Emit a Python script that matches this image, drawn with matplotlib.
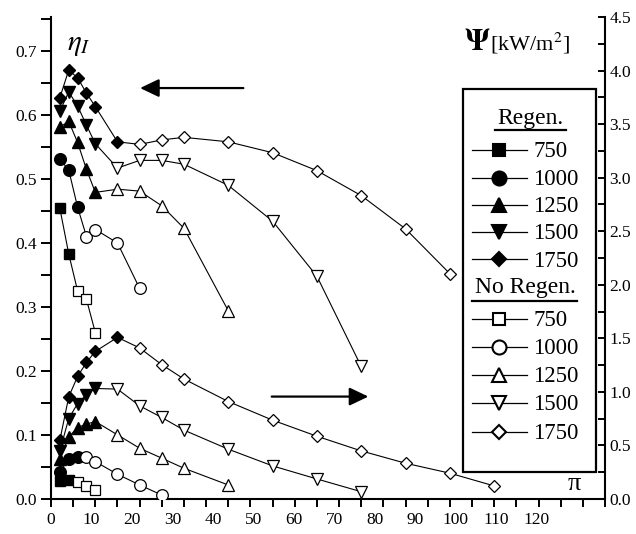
import numpy as np
import matplotlib
matplotlib.use("Agg")
import matplotlib.pyplot as plt
from matplotlib.lines import Line2D
from matplotlib.patches import Rectangle
from matplotlib.ticker import MultipleLocator

plt.rcParams["font.family"] = ["Liberation Serif", "DejaVu Serif"]
plt.rcParams["mathtext.fontset"] = "stix"

# temperatures [K] and their markers
temps = [750, 1000, 1250, 1500, 1750]
markers = ["s", "o", "^", "v", "D"]
msizes = [7.5, 8.4, 8.4, 8.4, 6.3]

# with regeneration (filled markers): pressure ratio, efficiency, specific power
regen_pi = [[2, 4], [2, 4, 6], [2, 4, 6, 8, 10], [2, 4, 6, 8, 10], [2, 4, 6, 8, 10, 15]]
regen_eta = [
    [0.454, 0.383],
    [0.531, 0.514, 0.456],
    [0.581, 0.590, 0.557, 0.515, 0.479],
    [0.606, 0.636, 0.614, 0.584, 0.555],
    [0.627, 0.670, 0.658, 0.634, 0.613, 0.558],
]
regen_psi = [
    [0.17, 0.18],
    [0.255, 0.371, 0.396],
    [0.37, 0.58, 0.667, 0.699, 0.723],
    [0.449, 0.751, 0.891, 0.973, 1.032],
    [0.549, 0.954, 1.144, 1.275, 1.378, 1.509],
]

# without regeneration (open markers)
noregen_pi = [
    [6, 8, 10],
    [8, 10, 15, 20, 25],
    [15, 20, 25, 30, 40],
    [15, 20, 25, 30, 40, 50, 60, 70],
    [20, 25, 30, 40, 50, 60, 70, 80, 90, 100],
]
noregen_eta = [
    [0.325, 0.312, 0.260],
    [0.410, 0.421, 0.400, 0.329, np.nan],
    [0.484, 0.481, 0.458, 0.423, 0.294],
    [0.517, 0.529, 0.529, 0.523, 0.490, 0.434, 0.348, 0.207],
    [0.554, 0.561, 0.565, 0.558, 0.541, 0.513, 0.474, 0.422, 0.352, np.nan],
]
noregen_psi = [
    [0.16, 0.12, 0.08],
    [0.393, 0.349, 0.231, 0.131, 0.037],
    [0.599, 0.474, 0.381, 0.287, 0.131],
    [1.026, 0.870, 0.761, 0.643, 0.465, 0.309, 0.187, 0.068],
    [1.410, 1.254, 1.120, 0.910, 0.736, 0.586, 0.449, 0.334, 0.241, 0.122],
]

x_labels = [str(v) for v in range(0, 130, 10)]
# the source figure prints its x labels a bit tighter than the tick marks
label_step = 9.13

W, H = 636, 534


def fx(px):
    return px / W


def fy(py):
    return 1 - py / H


fig = plt.figure(figsize=(W / 100, H / 100), dpi=100)
ax = fig.add_axes([fx(51), fy(499), (605 - 51) / W, (499 - 17) / H])
ax2 = ax.twinx()

line_kw = dict(color="k", lw=0.8)
for i, t in enumerate(temps):
    m, ms = markers[i], msizes[i]
    xs = regen_pi[i] + noregen_pi[i]
    for a, ys_r, ys_n in [(ax, regen_eta[i], noregen_eta[i]), (ax2, regen_psi[i], noregen_psi[i])]:
        a.plot(xs, list(ys_r) + list(ys_n), zorder=2, **line_kw)
        a.plot(regen_pi[i], ys_r, ls="none", marker=m, ms=ms, mfc="k", mec="k", zorder=3)
        a.plot(noregen_pi[i], ys_n, ls="none", marker=m, ms=ms, mfc="white", mec="k",
               mew=0.9, zorder=3)

ax.set_xlim(0, 125)
ax.set_ylim(0, 0.753)
ax2.set_ylim(0, 4.5)

ax.set_xticks(np.arange(len(x_labels)) * label_step, labels=x_labels)
ax.xaxis.set_minor_locator(MultipleLocator(5))
ax.xaxis.remove_overlapping_locs = False
ax.tick_params(axis="x", which="major", length=0, pad=9, labelsize=12.5)
ax.tick_params(axis="x", which="minor", length=6, width=1.4, direction="out")

ax.yaxis.set_major_locator(MultipleLocator(0.1))
ax.yaxis.set_minor_locator(MultipleLocator(0.05))
ax.yaxis.set_major_formatter(matplotlib.ticker.FormatStrFormatter("%.1f"))
ax.tick_params(axis="y", which="both", length=7, width=1.4, direction="out",
               labelsize=12.5, pad=3)

ax2.yaxis.set_major_locator(MultipleLocator(0.5))
ax2.yaxis.set_minor_locator(MultipleLocator(0.25))
ax2.yaxis.set_major_formatter(matplotlib.ticker.FormatStrFormatter("%.1f"))
ax2.tick_params(axis="y", which="both", length=5, width=1.4, direction="in",
                labelsize=12.5, pad=3)

for a in (ax, ax2):
    a.spines["top"].set_visible(False)
    for s in a.spines.values():
        s.set_linewidth(1.5)
ax.spines["right"].set_visible(False)
ax2.spines["left"].set_visible(False)
ax2.spines["bottom"].set_visible(False)

# arrows showing which axis each group belongs to
arrow_kw = dict(arrowstyle="-|>,head_length=1.15,head_width=0.55", color="k", lw=1.6,
                mutation_scale=10, shrinkA=0, shrinkB=0)
ax.annotate("", xy=(20.1, 0.642), xytext=(43.4, 0.642), arrowprops=arrow_kw)
ax.annotate("", xy=(71.6, 0.160), xytext=(49.8, 0.160), arrowprops=arrow_kw)

# axis titles
fig.text(fx(67), fy(50), r"$\eta_I$", fontsize=21, ha="left", va="baseline")
fig.text(fx(490), fy(50), r"$\mathbf{\Psi}$", fontsize=22, ha="right", va="baseline")
fig.text(fx(490), fy(50), r"[kW/m$^2$]", fontsize=16, ha="left", va="baseline")
fig.text(fx(568), fy(490), "π", fontsize=19, ha="left", va="baseline")

# hand-made legend
box = Rectangle((fx(463.3), fy(471.7)), fx(596) - fx(463.3), fy(89.3) - fy(471.7),
                transform=fig.transFigure, fill=True, fc="white", ec="k", lw=1.6, zorder=5)
fig.add_artist(box)


def header(text, xc, base, x0, x1, yline):
    fig.text(fx(xc), fy(base), text, fontsize=17, ha="center", va="baseline", zorder=6)
    fig.add_artist(Line2D([fx(x0), fx(x1)], [fy(yline)] * 2, color="k", lw=1.6,
                          transform=fig.transFigure, zorder=6))


def entry(i, yc, filled):
    fig.add_artist(Line2D([fx(471.7), fx(526.7)], [fy(yc)] * 2, color="k", lw=0.9,
                          transform=fig.transFigure, zorder=6))
    fig.add_artist(Line2D([fx(499.2)], [fy(yc)], ls="none", marker=markers[i],
                          ms=msizes[i] * 1.2, mfc="k" if filled else "white", mec="k",
                          mew=1.5, transform=fig.transFigure, zorder=7))
    fig.text(fx(533.5), fy(yc + 7.3), str(temps[i]), fontsize=16.5, ha="left",
             va="baseline", zorder=6)


header("Regen.", 530.5, 124, 495, 566, 130)
for i, yc in enumerate([150, 177.5, 204.8, 232, 259.3]):
    entry(i, yc, True)
header("No Regen.", 525.5, 292.7, 472, 577, 300.7)
for i, yc in enumerate([319.2, 347.2, 375, 403, 432]):
    entry(i, yc, False)

fig.savefig("out.png", dpi=100)
